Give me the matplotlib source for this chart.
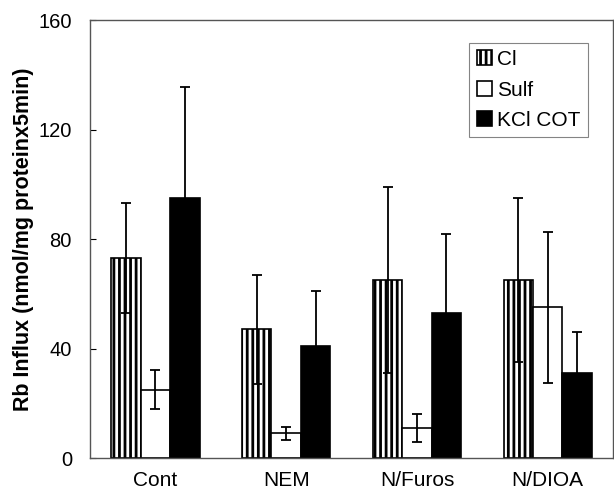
import numpy as np
import matplotlib.pyplot as plt

plt.rcParams['font.family'] = ['Liberation Sans', 'DejaVu Sans']
plt.rcParams['hatch.linewidth'] = 2.0

# data
groups = ["Cont", "NEM", "N/Furos", "N/DIOA"]
cl = [73, 47, 65, 65]
cl_err = [20, 20, 34, 30]
sulf = [25, 9, 11, 55]
sulf_err = [7, 2.5, 5, 27.5]
kcl = [95, 41, 53, 31]
kcl_err = [40.5, 20, 29, 15]

x = np.arange(len(groups))
w = 0.225

fig = plt.figure(figsize=(6.14, 4.98), dpi=100)
ax = fig.add_axes([0.1466, 0.0803, 0.852, 0.8795])

ekw = dict(ecolor="black", elinewidth=1.3, capsize=3.5, capthick=1.3)
ax.bar(x - w, cl, w, yerr=cl_err, color="white", edgecolor="black",
       hatch="|||", linewidth=1.2, label="Cl", error_kw=ekw)
ax.bar(x, sulf, w, yerr=sulf_err, color="white", edgecolor="black",
       linewidth=1.2, label="Sulf", error_kw=ekw)
ax.bar(x + w, kcl, w, yerr=kcl_err, color="black", edgecolor="black",
       linewidth=1.2, label="KCl COT", error_kw=ekw)

ax.set_xlim(-0.5, 3.5)
ax.set_ylim(0, 160)
ax.set_yticks([0, 40, 80, 120, 160])
ax.set_xticks(x)
ax.set_xticklabels(groups, fontsize=15)
ax.tick_params(axis="y", direction="in", length=4, pad=13, labelsize=14.5)
ax.tick_params(axis="x", length=0, pad=9)
for s in ax.spines.values():
    s.set_color("#555555")
    s.set_linewidth(1)
ax.set_ylabel("Rb Influx (nmol/mg proteinx5min)", fontsize=15.5, fontweight="bold",
              labelpad=3)

leg = ax.legend(loc="upper right", bbox_to_anchor=(0.952, 0.948), fontsize=15,
                frameon=True, fancybox=False, handlelength=0.75, handleheight=0.75,
                handletextpad=0.25, borderpad=0.35, labelspacing=0.55,
                borderaxespad=0)
leg.get_frame().set_edgecolor("#666666")
leg.get_frame().set_linewidth(0.8)

fig.savefig("out.png", dpi=100)
